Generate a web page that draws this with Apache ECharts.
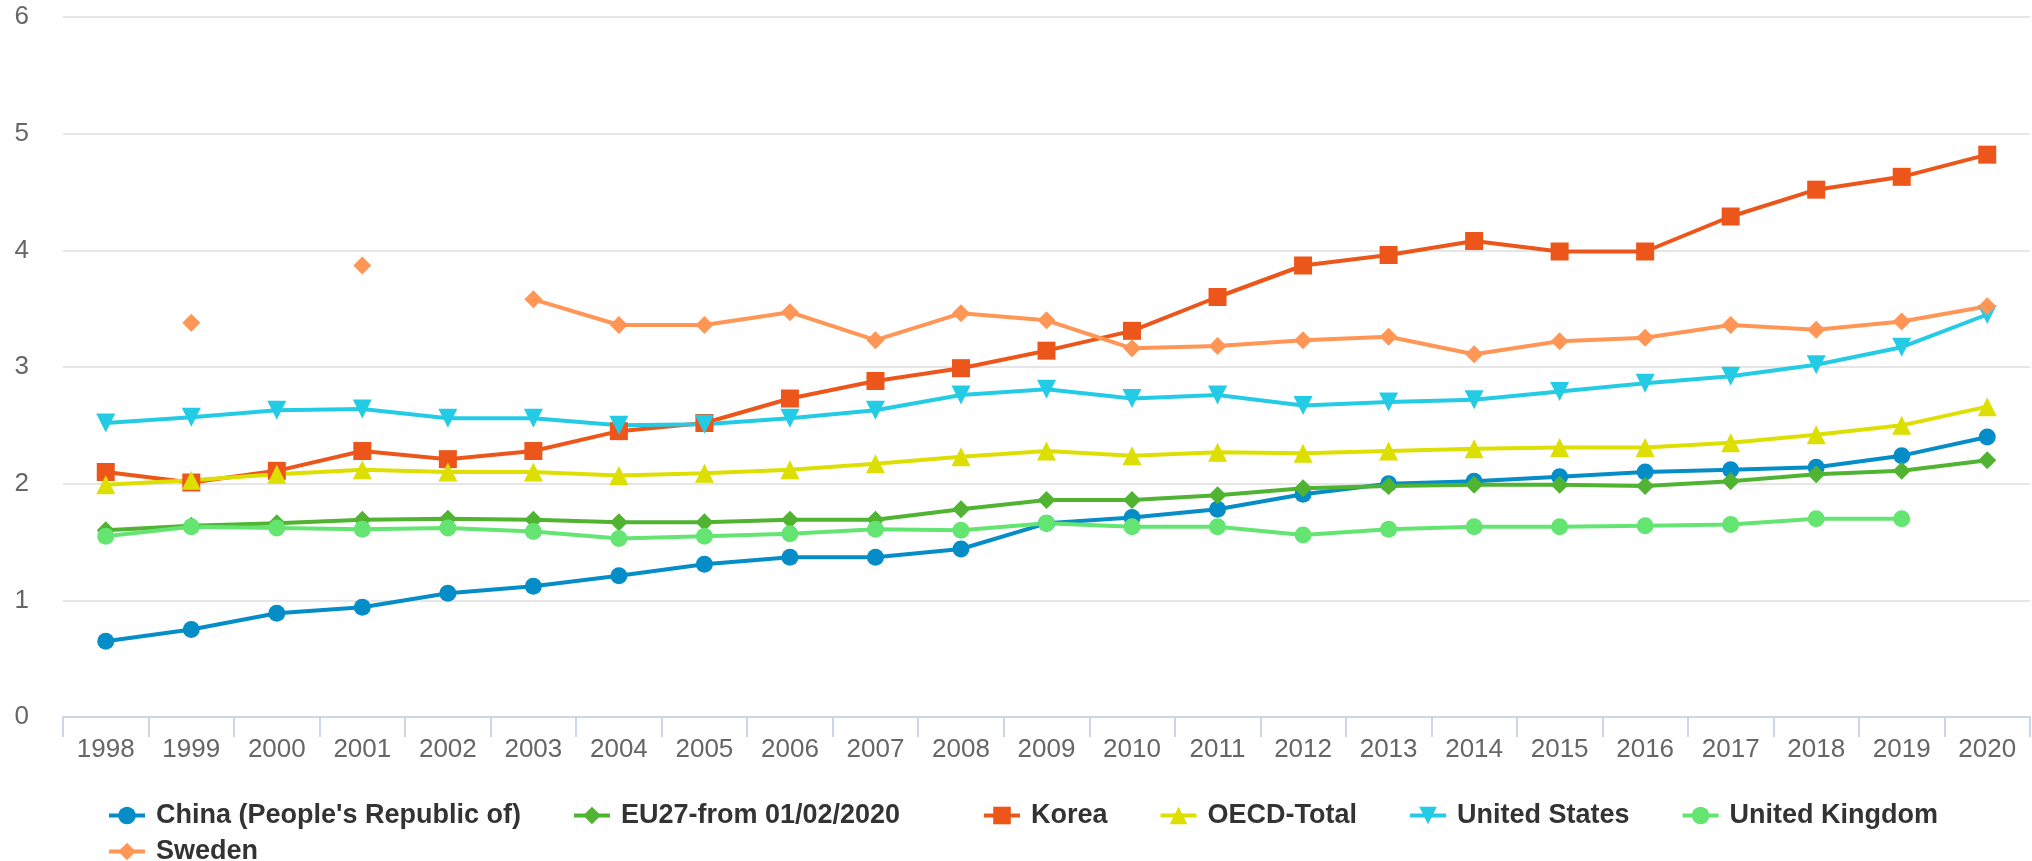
<!DOCTYPE html>
<html>
<head>
<meta charset="utf-8">
<script src="https://cdn.jsdelivr.net/npm/echarts@6/dist/echarts.min.js"></script>
<style>
  html, body { margin: 0; padding: 0; background: #fff; }
  #chart { width: 2032px; height: 861px; }
</style>
</head>
<body>
<div id="chart"></div>
<script>
// years on the x axis
const years = ['1998', '1999', '2000', '2001', '2002', '2003', '2004', '2005', '2006', '2007', '2008',
  '2009', '2010', '2011', '2012', '2013', '2014', '2015', '2016', '2017', '2018', '2019', '2020'];

// values (null = no data)
const china = [0.65, 0.75, 0.89, 0.94, 1.06, 1.12, 1.21, 1.31, 1.37, 1.37, 1.44, 1.66,
  1.71, 1.78, 1.91, 2.00, 2.02, 2.06, 2.10, 2.12, 2.14, 2.24, 2.40];
const eu27 = [1.60, 1.64, 1.66, 1.69, 1.70, 1.69, 1.67, 1.67, 1.69, 1.69, 1.78, 1.86,
  1.86, 1.90, 1.96, 1.98, 1.99, 1.99, 1.98, 2.02, 2.08, 2.11, 2.20];
const korea = [2.10, 2.01, 2.11, 2.28, 2.21, 2.28, 2.45, 2.52, 2.73, 2.88, 2.99, 3.14,
  3.31, 3.60, 3.87, 3.96, 4.08, 3.99, 3.99, 4.29, 4.52, 4.63, 4.82];
const oecd = [1.99, 2.03, 2.08, 2.12, 2.10, 2.10, 2.07, 2.09, 2.12, 2.17, 2.23, 2.28,
  2.24, 2.27, 2.26, 2.28, 2.30, 2.31, 2.31, 2.35, 2.42, 2.50, 2.66];
const unitedStates = [2.52, 2.57, 2.63, 2.64, 2.56, 2.56, 2.50, 2.51, 2.56, 2.63, 2.76, 2.81,
  2.73, 2.76, 2.67, 2.70, 2.72, 2.79, 2.86, 2.92, 3.02, 3.17, 3.45];
const unitedKingdom = [1.55, 1.63, 1.62, 1.61, 1.62, 1.59, 1.53, 1.55, 1.57, 1.61, 1.60, 1.66,
  1.63, 1.63, 1.56, 1.61, 1.63, 1.63, 1.64, 1.65, 1.70, 1.70, null];
const sweden = [null, 3.38, null, 3.87, null, 3.58, 3.36, 3.36, 3.47, 3.23, 3.46, 3.40,
  3.16, 3.18, 3.23, 3.26, 3.11, 3.22, 3.25, 3.36, 3.32, 3.39, 3.52];

const chart = echarts.init(document.getElementById('chart'));

// one helper so every series gets the same line / marker look
const makeLine = (name, data, color, symbol, size, rotate) => ({
  name: name,
  type: 'line',
  data: data,
  symbol: symbol,
  symbolSize: size,
  symbolRotate: rotate || 0,
  showAllSymbol: true,
  connectNulls: false,
  lineStyle: { color: color, width: 4 },
  itemStyle: { color: color },
  emphasis: { disabled: true }
});

const legendText = {
  fontFamily: 'Liberation Sans',
  fontSize: 27,
  fontWeight: 'bold',
  color: '#333333',
  padding: [0, 0, 0, 6]
};

// legend is split in pieces so the items sit where the reference has them
const legendPiece = (names, left, top) => ({
  data: names,
  left: left, top: top,
  itemWidth: 36, itemHeight: 22, itemGap: 51,
  lineStyle: { width: 4 },
  textStyle: legendText
});

const option = {
  animation: false,
  backgroundColor: '#ffffff',
  grid: { left: 63, right: 2, top: 17, bottom: 144 },
  legend: [
    legendPiece(['China (People\'s Republic of)', 'EU27-from 01/02/2020'], 102, 797),
    legendPiece(['Korea', 'OECD-Total', 'United States', 'United Kingdom'], 977, 797),
    legendPiece(['Sweden'], 102, 833)
  ],
  xAxis: {
    type: 'category',
    data: years,
    boundaryGap: true,
    axisLine: { lineStyle: { color: '#ccd6eb', width: 2 } },
    axisTick: { show: true, length: 20, lineStyle: { color: '#ccd6eb', width: 2 } },
    axisLabel: { margin: 20, fontFamily: 'Liberation Sans', fontSize: 26, color: '#666666' }
  },
  yAxis: {
    type: 'value',
    min: 0, max: 6, interval: 1,
    axisLine: { show: false },
    axisTick: { show: false },
    axisLabel: { margin: 34, fontFamily: 'Liberation Sans', fontSize: 26, color: '#666666' },
    splitLine: { lineStyle: { color: '#e6e6e6', width: 2 } }
  },
  series: [
    makeLine('China (People\'s Republic of)', china, '#058DC7', 'circle', 17),
    makeLine('EU27-from 01/02/2020', eu27, '#50B432', 'diamond', 18),
    makeLine('Korea', korea, '#ED561B', 'rect', 18),
    makeLine('OECD-Total', oecd, '#DDDF00', 'triangle', 19),
    makeLine('United States', unitedStates, '#24CBE5', 'triangle', 19, 180),
    makeLine('United Kingdom', unitedKingdom, '#64E572', 'circle', 17),
    makeLine('Sweden', sweden, '#FF9655', 'diamond', 18)
  ]
};

chart.setOption(option);
</script>
</body>
</html>
